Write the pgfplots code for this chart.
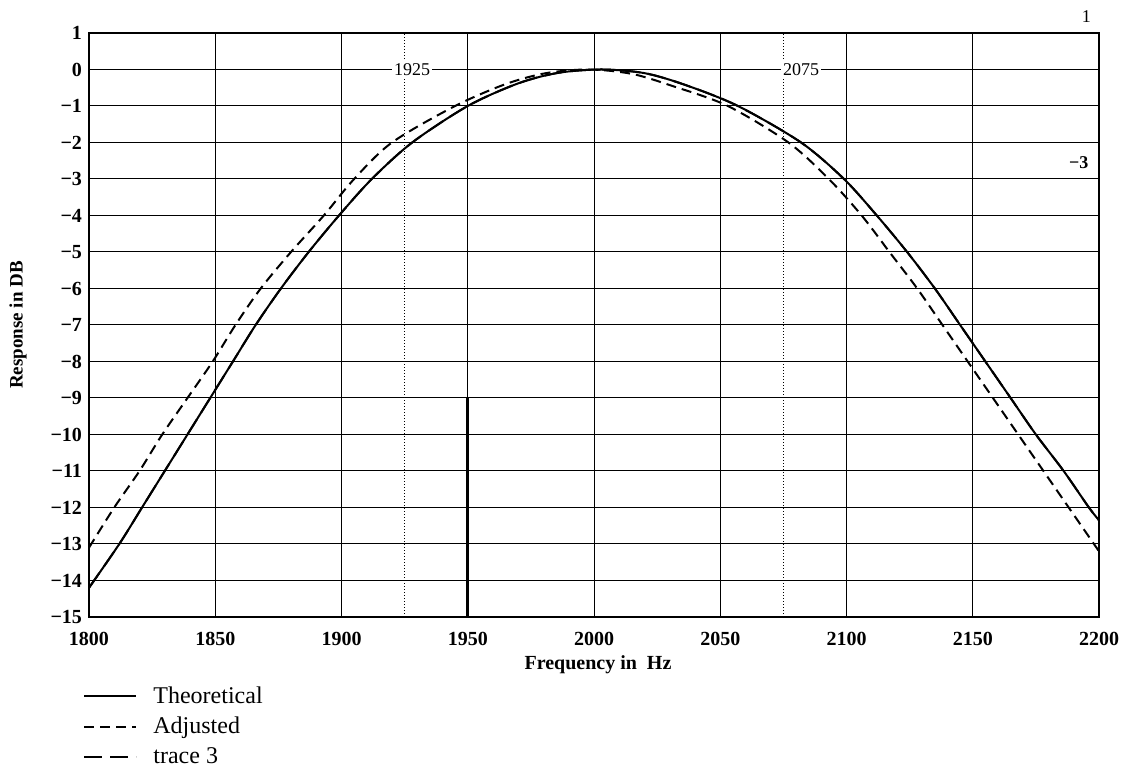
\documentclass[border=0pt]{standalone}
\usepackage{fontspec}
\setmainfont{Liberation Serif}
\usepackage{pgfplots}
\pgfplotsset{compat=1.18}

\begin{document}
\begin{tikzpicture}
% page = 1130x774 px, 1 px = 0.5 pt
\path[use as bounding box] (-44.5pt,-78.5pt) rectangle (520.5pt,308.5pt);
\begin{axis}[
  at={(0,0)}, anchor=south west,
  scale only axis, width=505pt, height=292pt,
  xmin=1800, xmax=2200, ymin=-15, ymax=1,
  xtick={1800,1850,...,2200},
  ytick={-15,...,1},
  yticklabels={−15,−14,−13,−12,−11,−10,−9,−8,−7,−6,−5,−4,−3,−2,−1,0,1},
  extra x ticks={1925,2075},
  extra x tick labels={},
  extra x tick style={grid style={black, densely dotted, line width=0.6pt}},
  major tick length=0pt,
  grid=major,
  grid style={black, line width=0.5pt},
  axis line style={line width=1.2pt},
  tick label style={font=\fontsize{10}{12}\bfseries\selectfont},
  /pgf/number format/assume math mode=true,
  /pgf/number format/1000 sep={},
  xticklabel style={yshift=-4pt},
  xlabel={Frequency in\ \ Hz},
  ylabel={Response in DB},
  every axis x label/.style={at={(rel axis cs:0.5,0)}, anchor=center, yshift=-24pt, xshift=2pt, font=\fontsize{10}{12}\bfseries\selectfont},
  every axis y label/.style={at={(rel axis cs:0,0.5)}, anchor=center, xshift=-35.5pt, rotate=90, font=\fontsize{9.5}{11}\bfseries\selectfont},
  clip=false,
  legend style={at={(rel axis cs:0,0)}, anchor=north west, xshift=-3pt, yshift=-33pt,
    draw=none, fill=none, font=\fontsize{12}{13}\selectfont,
    row sep=2.5pt, inner sep=0pt, nodes={inner sep=1.5pt}},
  legend cell align=left,
  legend image code/.code={\draw[#1] (0pt,0pt) -- (26pt,0pt);
    \path[draw=none, fill=none] (26pt,0pt) -- (33pt,0pt);},
]

\addplot[black, line width=1pt, smooth] coordinates {
  (1800,-14.2) (1812,-13) (1821,-12) (1830,-11) (1839,-10) (1848,-9)
  (1857,-8) (1866,-7) (1876,-6) (1887,-5) (1899,-4) (1912,-3) (1928,-2)
  (1950,-1) (1970,-0.38) (1986,-0.09) (2003,0) (2020,-0.1) (2036,-0.42)
  (2057,-1) (2082,-2) (2099,-3) (2112,-4) (2124,-5) (2135,-6) (2145,-7)
  (2155,-8) (2165,-9) (2175,-10) (2186,-11) (2196,-12) (2200,-12.35)
};
\addlegendentry{Theoretical}

\addplot[black, line width=1pt, smooth, dash pattern=on 5pt off 3pt] coordinates {
  (1800,-13.1) (1810,-12) (1820,-11) (1829,-10) (1839,-9) (1849,-8)
  (1858,-7) (1868,-6) (1880,-5) (1893,-4) (1905,-3) (1920,-2) (1945,-1)
  (1965,-0.4) (1981,-0.1) (1998,0) (2015,-0.12) (2031,-0.45) (2053,-1)
  (2077,-2) (2093,-3) (2106,-4) (2117,-5) (2128,-6) (2138,-7) (2148,-8)
  (2158,-9) (2168,-10) (2178,-11) (2188,-12) (2198,-13) (2200,-13.2)
};
\addlegendentry{Adjusted}

\addplot[black, line width=1pt, smooth, dash pattern=on 9pt off 4pt] coordinates {
  (1800,-14.2) (1812,-13) (1821,-12) (1830,-11) (1839,-10) (1848,-9)
  (1857,-8) (1866,-7) (1876,-6) (1887,-5) (1899,-4) (1912,-3) (1928,-2)
  (1950,-1) (1970,-0.38) (1986,-0.09) (2003,0) (2020,-0.1) (2036,-0.42)
  (2057,-1) (2082,-2) (2099,-3) (2112,-4) (2124,-5) (2135,-6) (2145,-7)
  (2155,-8) (2165,-9) (2175,-10) (2186,-11) (2196,-12) (2200,-12.35)
};
\addlegendentry{trace 3}

% heavy marker line at 1950 in the lower part
\draw[line width=1.4pt] (axis cs:1950,-9) -- (axis cs:1950,-15);

\node[fill=white, inner sep=1pt, font=\fontsize{9}{10}\selectfont] at (axis cs:1928,0) {1925};
\node[fill=white, inner sep=1pt, font=\fontsize{9}{10}\selectfont] at (axis cs:2082,0) {2075};
\node[font=\fontsize{9}{10}\bfseries\selectfont] at (axis cs:2192,-2.55) {−3};
\node[font=\fontsize{9}{10}\selectfont] at (axis cs:2195,1.45) {1};
\end{axis}
\end{tikzpicture}
\end{document}
